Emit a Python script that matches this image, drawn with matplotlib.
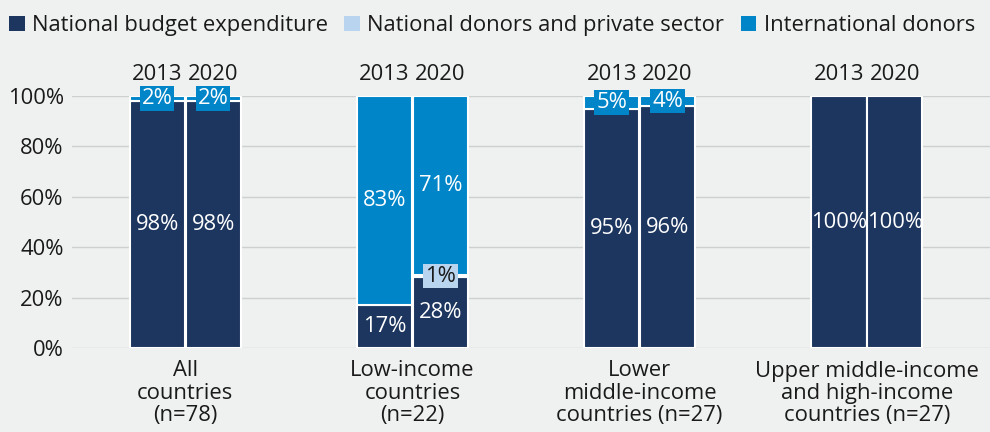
import matplotlib.pyplot as plt
from matplotlib.patches import Patch

plt.rcParams['font.family'] = ['Open Sans', 'DejaVu Sans']

groups = ["All\ncountries\n(n=78)", "Low-income\ncountries\n(n=22)",
          "Lower\nmiddle-income\ncountries (n=27)",
          "Upper middle-income\nand high-income\ncountries (n=27)"]
years = ["2013", "2020"]
series_names = ["National budget expenditure", "National donors and private sector",
                "International donors"]
# values per group: [2013, 2020]
national_budget = [[98, 98], [17, 28], [95, 96], [100, 100]]
national_donors = [[0, 0], [0, 1], [0, 0], [0, 0]]
international = [[2, 2], [83, 71], [5, 4], [0, 0]]
yticks = [0, 20, 40, 60, 80, 100]

colors = ["#1d365f", "#b9d4ee", "#0085c8"]
bg = "#eff1f0"
text_col = "#1a1a1a"

fig = plt.figure(figsize=(9.9, 4.32), dpi=100, facecolor=bg)
ax = fig.add_axes([72/990, 84/432, 918/990, 252/432], facecolor=bg)
ax.set_xlim(-0.498, 3.542)
ax.set_ylim(0, 100)

bw = 0.243
offs = [-0.123, 0.123]
fs = 15.8

for g in range(len(groups)):
    for k in range(2):
        x = g + offs[k]
        vals = [national_budget[g][k], national_donors[g][k], international[g][k]]
        bottom = 0
        for s, v in enumerate(vals):
            if v > 0:
                ax.bar(x, v, bw, bottom=bottom, color=colors[s], edgecolor="white",
                       linewidth=1.5, zorder=3)
                cy = bottom + v / 2
                if v >= 10:
                    ax.text(x, cy, f"{v}%", ha="center", va="center", color="white",
                            fontsize=fs, zorder=5)
                else:
                    tc = text_col if s == 1 else "white"
                    ax.text(x, cy, f"{v}%", ha="center", va="center", color=tc,
                            fontsize=fs, zorder=6, clip_on=False,
                            bbox=dict(boxstyle="square,pad=0.08", fc=colors[s],
                                      ec="none"))
            bottom += v
        ax.text(x, 108.6, years[k], ha="center", va="center", color=text_col,
                fontsize=fs, clip_on=False)

ax.set_yticks(yticks)
ax.set_yticklabels([f"{t}%" for t in yticks], fontsize=fs, color=text_col)
ax.set_xticks(range(len(groups)))
ax.set_xticklabels(groups, fontsize=fs, color=text_col, linespacing=1.08)
ax.tick_params(axis="y", length=0, pad=6)
ax.tick_params(axis="x", length=0, pad=9)
ax.yaxis.grid(True, color="#cdd0d0", linewidth=1, zorder=0)
ax.set_axisbelow(True)
for sp in ax.spines.values():
    sp.set_visible(False)

handles = [Patch(facecolor=c, edgecolor="none") for c in colors]
fig.legend(handles, series_names, loc="upper left", bbox_to_anchor=(0.0, 0.985),
           ncol=3, frameon=False, fontsize=fs, handlelength=0.72, handleheight=0.72,
           handletextpad=0.33, columnspacing=0.75, borderaxespad=0.2,
           borderpad=0.2, labelcolor=text_col)

fig.savefig("out.png", dpi=100, facecolor=bg)
